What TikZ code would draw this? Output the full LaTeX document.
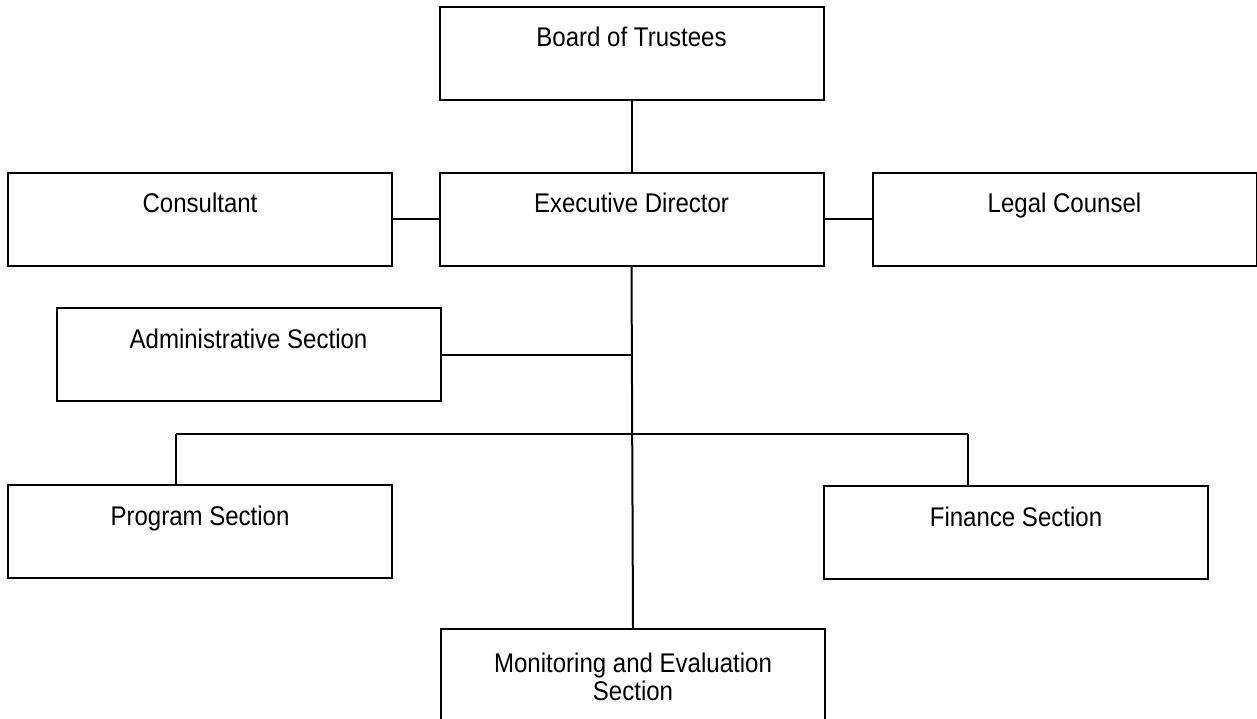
\documentclass[tikz,border=0pt]{standalone}
\usepackage{fontspec}
\setmainfont[FakeStretch=0.89]{Liberation Sans}
\begin{document}
\begin{tikzpicture}[x=1pt, y=-1pt, line width=2pt,
    every node/.style={rectangle, draw, minimum width=384pt, minimum height=93pt, inner sep=0pt,
      text height=40pt, text depth=53pt, font=\fontsize{27}{28}\selectfont}]
      \useasboundingbox (0,0) rectangle (1257,719);

      \node (BT) at (631.5,53.5) {Board of Trustees};
      \node (CO) at (200,219.5) {Consultant};
      \node (ED) at (631.5,219.5) {Executive Director};
      \node (LC) at (1064.5,219.5) {Legal Counsel};

      \node (AS) at (248.5,354.5) {Administrative Section};

      \node (PS) at (200,531.5) {Program Section};
      \node (FS) at (1016,532.5) {Finance Section};
      \node (ME) at (633,675.5) [align=center, text height=71pt, text depth=22pt] {Monitoring and Evaluation\\Section};

      \coordinate (L) at (176,434);
      \coordinate (R) at (968,434);

      \draw (BT) -- (ED);
      \draw (CO) -- (ED);
      \draw (ED) -- (LC);
      \draw (ED.south) -- (ME.north);
      \draw (AS) -- (AS -| ED.south);
      \draw (L) -- (R);
      \draw (L) -- (L |- PS.north);
      \draw (R) -- (R |- FS.north);
\end{tikzpicture}
\end{document}
